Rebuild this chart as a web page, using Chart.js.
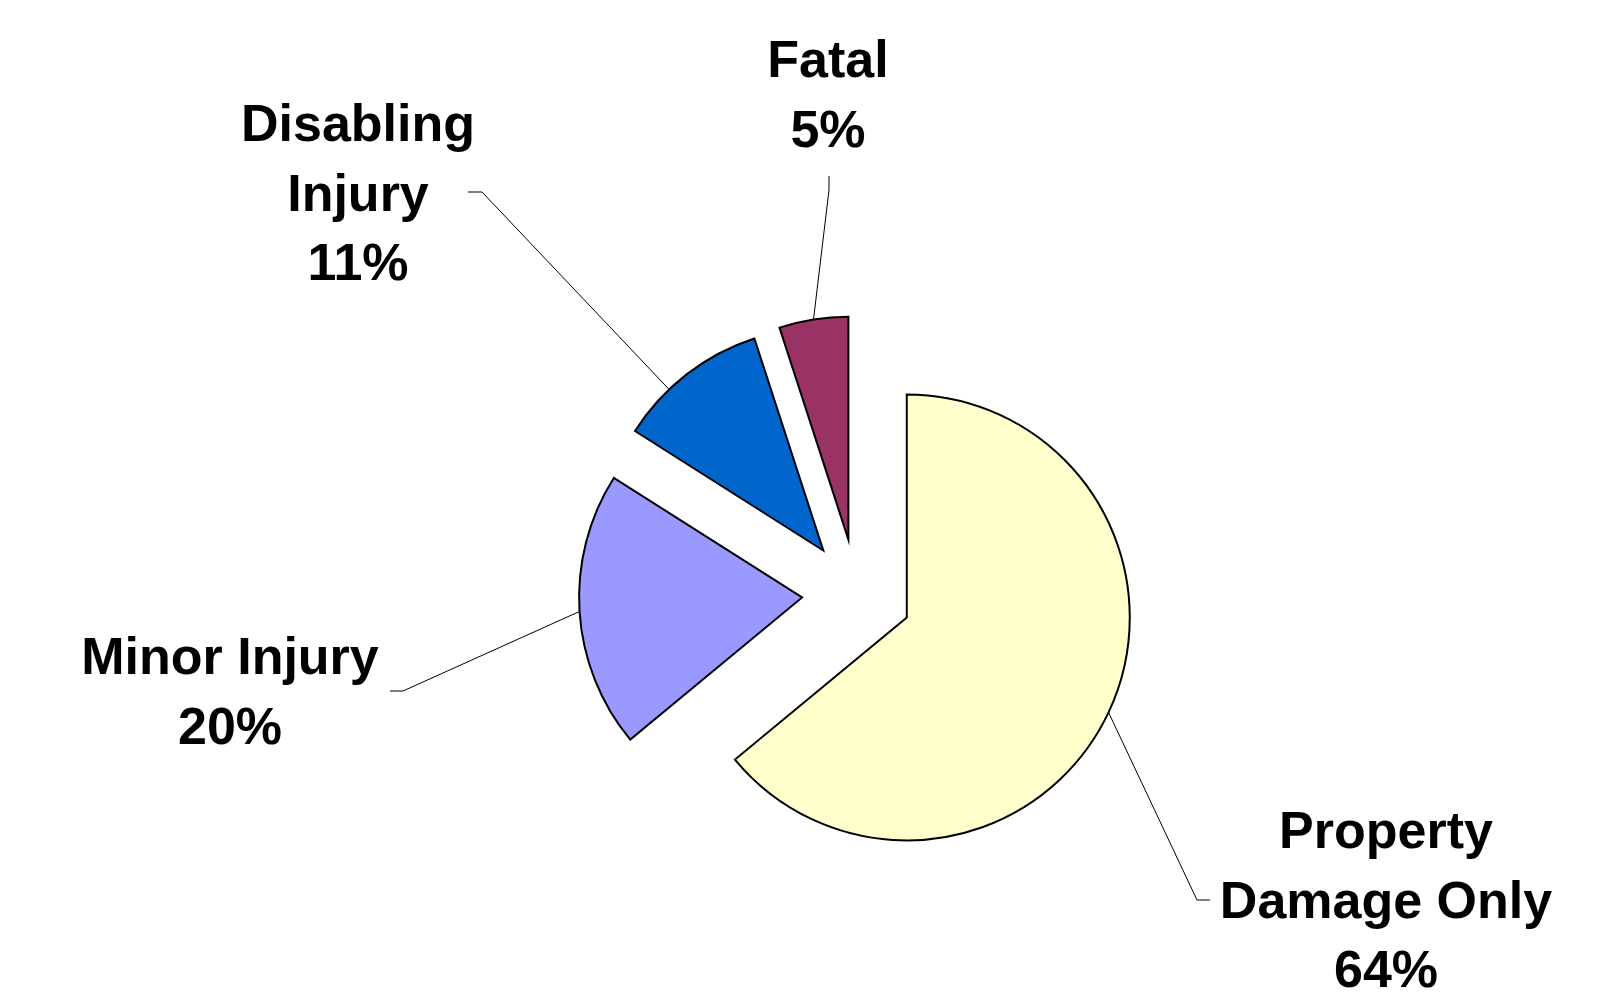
<!DOCTYPE html>
<html>
<head>
<meta charset="utf-8">
<title>Crash severity</title>
<script src="https://cdn.jsdelivr.net/npm/chart.js@4.4.1/dist/chart.umd.min.js"></script>
<style>
    html, body { margin: 0; padding: 0; background: #ffffff; }
    canvas { display: block; }
</style>
</head>
<body>
<canvas id="pieChart" width="1607" height="994"></canvas>
<script>
/* ===== DATA ===== */
const categories = ["Property\nDamage Only", "Minor Injury", "Disabling\nInjury", "Fatal"];
const shares = [64, 20, 11, 5];
const sliceColors = ["#FFFFCC", "#9999FF", "#0066CC", "#993366"];

/* ===== LABEL LAYOUT (text centre x, first baseline y, elbow, line end, where on the arc) ===== */
const labelLayout = [
    { x: 1386, y: 848, elbow: [1197, 900], end: [1210, 900], at: 0.5 },
    { x: 230, y: 674, elbow: [403, 691], end: [390, 691], at: 0.5 },
    { x: 358, y: 141, elbow: [482, 192], end: [468, 192], at: 0.35 },
    { x: 828, y: 77, elbow: [829, 190], end: [829, 176], at: 0.5 }
];

const EXPLODE = 55;      // px every slice is pulled out
const LINE_H = 69.5;

/* ===== exploded slices: draw each arc shifted along its mid angle ===== */
const explodePlugin = {
    id: "explode",
    beforeDatasetDraw(chart, args) {
        const ctx = chart.ctx;
        args.meta.data.forEach(arc => {
            const mid = (arc.startAngle + arc.endAngle) / 2;
            ctx.save();
            ctx.translate(Math.cos(mid) * EXPLODE, Math.sin(mid) * EXPLODE);
            arc.draw(ctx);
            ctx.restore();
        });
        return false;
    }
};

/* ===== labels with leader lines ===== */
const labelPlugin = {
    id: "sliceLabels",
    afterDraw(chart) {
        const ctx = chart.ctx;
        const arcs = chart.getDatasetMeta(0).data;
        const total = shares.reduce((a, b) => a + b, 0);

        arcs.forEach((arc, i) => {
            const lay = labelLayout[i];
            const mid = (arc.startAngle + arc.endAngle) / 2;
            const cx = arc.x + Math.cos(mid) * EXPLODE;
            const cy = arc.y + Math.sin(mid) * EXPLODE;
            const a = arc.startAngle + (arc.endAngle - arc.startAngle) * lay.at;
            const px = cx + Math.cos(a) * arc.outerRadius;
            const py = cy + Math.sin(a) * arc.outerRadius;

            ctx.save();
            ctx.strokeStyle = "#000000";
            ctx.lineWidth = 1;
            ctx.beginPath();
            ctx.moveTo(px, py);
            ctx.lineTo(lay.elbow[0], lay.elbow[1]);
            ctx.lineTo(lay.end[0], lay.end[1]);
            ctx.stroke();

            const lines = categories[i].split("\n");
            lines.push(Math.round(shares[i] / total * 100) + "%");
            ctx.fillStyle = "#000000";
            ctx.font = "bold 52px 'Liberation Sans', Arial, sans-serif";
            ctx.textAlign = "center";
            ctx.textBaseline = "alphabetic";
            lines.forEach((t, k) => ctx.fillText(t, lay.x, lay.y + k * LINE_H));
            ctx.restore();
        });
    }
};

new Chart(document.getElementById("pieChart"), {
    type: "pie",
    data: {
        labels: categories,
        datasets: [{
            data: shares,
            backgroundColor: sliceColors,
            borderColor: "#000000",
            borderWidth: 2,
            borderJoinStyle: "miter",
            radius: 223
        }]
    },
    options: {
        responsive: false,
        animation: false,
        layout: { padding: { left: 107, right: 0, top: 194, bottom: 0 } },
        plugins: {
            legend: { display: false },
            tooltip: { enabled: false }
        }
    },
    plugins: [explodePlugin, labelPlugin]
});
</script>
</body>
</html>
